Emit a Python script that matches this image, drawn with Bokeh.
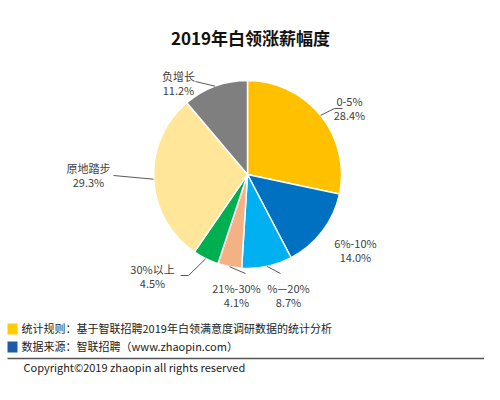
import math
from bokeh.plotting import figure
from bokeh.models import Range1d, ColumnDataSource
from bokeh.core.properties import value
from bokeh.embed import file_html
from bokeh.resources import INLINE

# ---------------- data ----------------
title = "2019年白领涨薪幅度"
categories = ["0-5%", "6%-10%", "%—20%", "21%-30%", "30%以上", "原地踏步", "负增长"]
shares = [28.4, 14.0, 8.7, 4.1, 4.5, 29.3, 11.2]
share_labels = ["28.4%", "14.0%", "8.7%", "4.1%", "4.5%", "29.3%", "11.2%"]
colors = ["#FFC000", "#0070C0", "#00B0F0", "#F4B183", "#00B050", "#FFE699", "#7F7F7F"]
notes = ["统计规则：基于智联招聘2019年白领满意度调研数据的统计分析",
         "数据来源：智联招聘（www.zhaopin.com）"]
note_colors = ["#FFCC00", "#1F5AA6"]
copyright_text = "Copyright©2019 zhaopin all rights reserved"

# ---------------- layout (image pixel coords, y down) ----------------
W, H = 484, 384
CX, CY, R = 247, 174, 94
FONT = "Noto Sans CJK SC"
def Y(img_y):
    return 400 - img_y

# label centre positions (name line, value line) per slice
label_pos = [(349, 100), (355, 242), (288, 287), (236, 287), (152, 268), (88, 167), (178, 75)]
# leader line points after the pie edge anchor (None = no leader)
leader_pts = [[(334, 108), (342, 108)], None, [(280, 273)], [(245, 273)],
              [(188, 275), (180, 275)], [(113, 175)], [(195, 81)]]

p = figure(width=W, height=H, x_range=Range1d(0, W), y_range=Range1d(400 - H, 400),
           output_backend="svg", toolbar_location=None, min_border=0)
p.axis.visible = False
p.grid.visible = False
p.outline_line_color = None
p.background_fill_color = "white"

# ---------------- pie ----------------
total = sum(shares)
starts, ends = [], []
acc = 0.0
for s in shares:
    a0 = math.pi / 2 - 2 * math.pi * acc / total
    acc += s
    a1 = math.pi / 2 - 2 * math.pi * acc / total
    starts.append(a1)
    ends.append(a0)
src = ColumnDataSource(dict(start=starts, end=ends, color=colors))
p.wedge(x=CX, y=Y(CY), radius=R, start_angle="start", end_angle="end",
        fill_color="color", line_color="white", line_width=1.5, source=src)

# leader lines
acc = 0.0
for i, s in enumerate(shares):
    mid = (acc + s / 2) / total
    acc += s
    if leader_pts[i] is None:
        continue
    ang = math.pi / 2 - 2 * math.pi * mid
    ex = CX + R * math.cos(ang)
    ey = Y(CY) + R * math.sin(ang)
    xs = [ex] + [pt[0] for pt in leader_pts[i]]
    ys = [ey] + [Y(pt[1]) for pt in leader_pts[i]]
    p.line(xs, ys, line_color="#595959", line_width=1)

# labels
p.text(x=[lp[0] for lp in label_pos], y=[Y(lp[1]) for lp in label_pos], text=categories,
       text_font=value(FONT), text_font_size="11px", text_color="#404040",
       text_align="center", text_baseline="middle")
p.text(x=[lp[0] for lp in label_pos], y=[Y(lp[1] + 14) for lp in label_pos], text=share_labels,
       text_font=value(FONT), text_font_size="11px", text_color="#404040",
       text_align="center", text_baseline="middle")

# title
p.text(x=[250], y=[Y(37)], text=[title], text_font=value(FONT), text_font_size="17px",
       text_font_style="bold", text_color="#111111", text_align="center", text_baseline="middle")

# footer notes
note_y = [327, 345]
p.quad(left=[7, 7], right=[17, 17], top=[Y(323), Y(341)], bottom=[Y(334), Y(352)],
       fill_color=note_colors, line_color=None)
p.text(x=[21, 21], y=[Y(v) for v in note_y], text=notes, text_font=value(FONT),
       text_font_size="11px", text_color="#222222", text_align="left", text_baseline="middle")
p.line([7, W], [Y(358), Y(358)], line_color="#555555", line_width=1.5)
p.text(x=[23], y=[Y(366)], text=[copyright_text], text_font=value(FONT),
       text_font_size="11px", text_color="#222222", text_align="left", text_baseline="middle")

open("out.html", "w").write(file_html(p, INLINE))
